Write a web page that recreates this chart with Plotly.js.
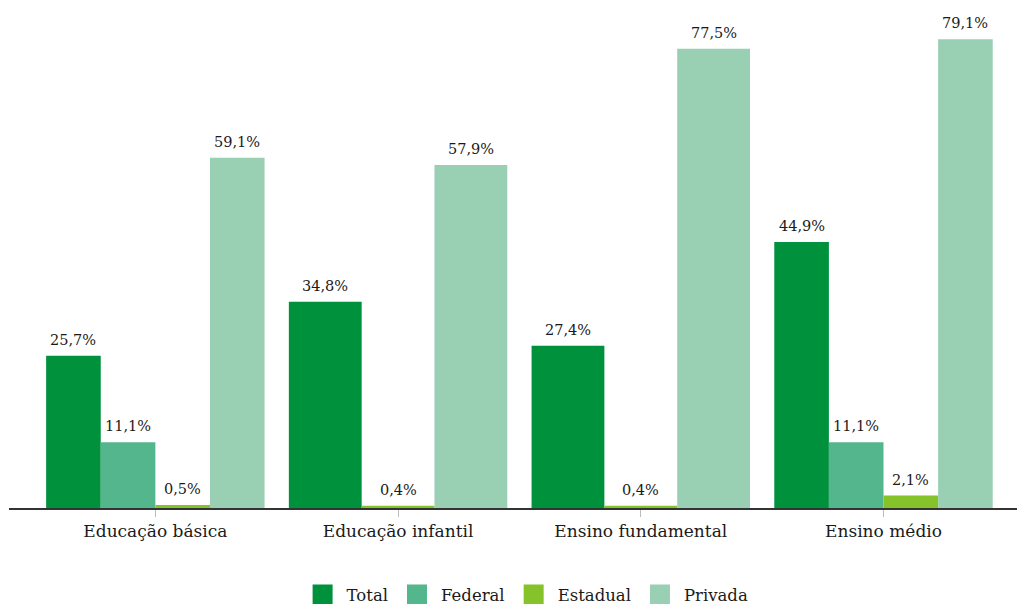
<!DOCTYPE html>
<html>
<head>
<meta charset="utf-8">
<script src="https://cdn.plot.ly/plotly-3.0.1.min.js"></script>
<style>html,body{margin:0;padding:0;background:#fff;}#chart{width:1017px;height:604px;}</style>
</head>
<body>
<div id="chart"></div>
<script>
const categories = ["Educação básica", "Educação infantil", "Ensino fundamental", "Ensino médio"];
const seriesNames = ["Total", "Federal", "Estadual", "Privada"];
const total    = [25.7, 34.8, 27.4, 44.9];
const federal  = [11.1, null, null, 11.1];
const estadual = [0.5, 0.4, 0.4, 2.1];
const privada  = [59.1, 57.9, 77.5, 79.1];
const colors = ["#00913d", "#54b68c", "#86c22a", "#99d0b4"];

const allSeries = [total, federal, estadual, privada];
const groupWidth = 0.9;
const FONT = "DejaVu Serif";

const offsets = allSeries.map(() => []);
const widths = allSeries.map(() => []);
categories.forEach((c, i) => {
  const present = allSeries.map((s, k) => s[i] != null ? k : -1).filter(k => k >= 0);
  const w = groupWidth / present.length;
  present.forEach((k, j) => {
    offsets[k][i] = -groupWidth / 2 + j * w;
    widths[k][i] = w;
  });
  allSeries.forEach((s, k) => {
    if (s[i] == null) { offsets[k][i] = 0; widths[k][i] = 0; }
  });
});

const traces = [];
const annotations = [];
allSeries.forEach((s, k) => {
  traces.push({
    type: "bar",
    name: seriesNames[k],
    x: categories.map((c, i) => i),
    y: s,
    offset: offsets[k],
    width: widths[k],
    marker: { color: colors[k], line: { width: 0 } },
    showlegend: false,
    hoverinfo: "skip"
  });
  s.forEach((v, i) => {
    if (v == null) return;
    annotations.push({
      x: i + offsets[k][i] + widths[k][i] / 2,
      y: v,
      xref: "x", yref: "y",
      text: v.toFixed(1).replace(".", ",") + "%",
      showarrow: false,
      yanchor: "bottom",
      yshift: 6,
      font: { family: FONT, size: 14.5, color: "#1a1a1a" }
    });
  });
});
seriesNames.forEach((n, k) => {
  traces.push({
    type: "scatter", mode: "markers", name: n,
    x: [null], y: [null],
    marker: { symbol: "square", size: 16, color: colors[k], line: { color: colors[k], width: 4 } },
    showlegend: true, hoverinfo: "skip"
  });
});

const layout = {
  width: 1017, height: 604,
  margin: { l: 9, r: 0, t: 34, b: 95.5, autoexpand: false },
  paper_bgcolor: "#fff", plot_bgcolor: "#fff",
  barmode: "overlay",
  font: { family: FONT, color: "#1a1a1a" },
  xaxis: {
    type: "linear",
    range: [-0.603, 3.55],
    tickvals: categories.map((c, i) => i),
    ticktext: categories,
    showgrid: false, zeroline: false,
    showline: true, linecolor: "#333", linewidth: 1.5,
    ticks: "outside", ticklen: 7, tickcolor: "#bbbbbb", tickwidth: 1,
    tickfont: { family: FONT, size: 17, color: "#1a1a1a" },
    fixedrange: true
  },
  yaxis: {
    range: [0, 80],
    visible: false,
    showgrid: false, zeroline: false,
    fixedrange: true
  },
  legend: {
    orientation: "h",
    x: 0.513, xanchor: "center",
    y: -0.183, yanchor: "middle",
    itemwidth: 38,
    font: { family: FONT, size: 16.5, color: "#1a1a1a" },
    traceorder: "normal",
    itemclick: false, itemdoubleclick: false
  },
  annotations: annotations,
  showlegend: true
};

Plotly.newPlot("chart", traces, layout, { displayModeBar: false, staticPlot: true });
</script>
</body>
</html>
